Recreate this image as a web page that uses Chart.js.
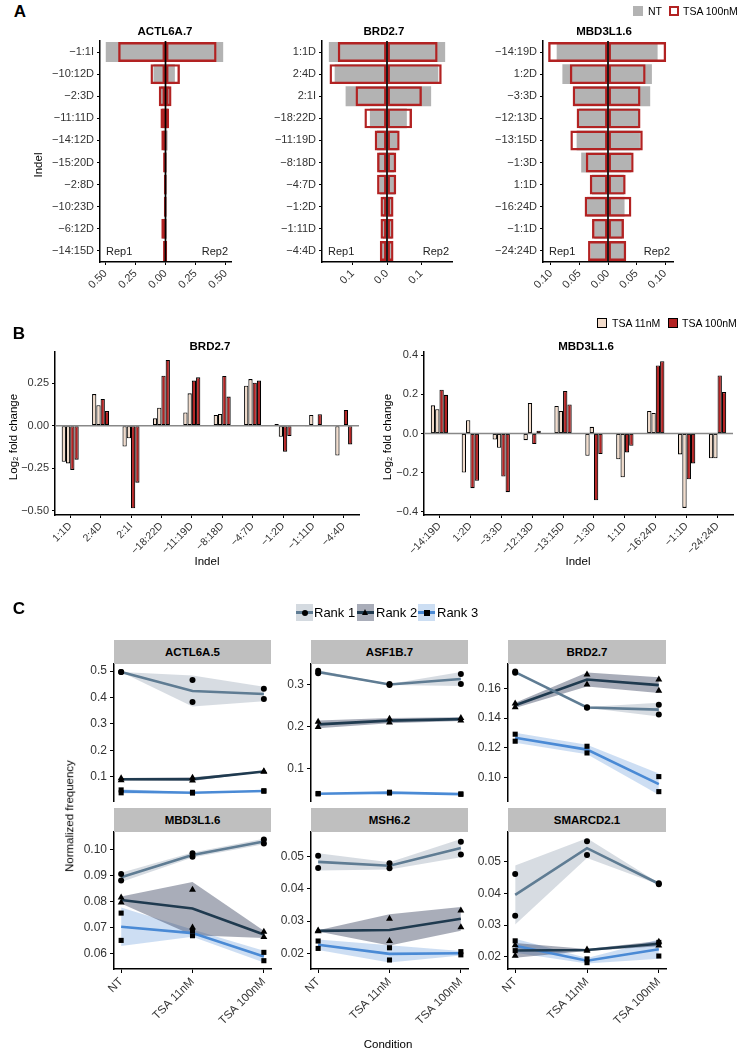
<!DOCTYPE html>
<html>
<head>
<meta charset="utf-8">
<script src="https://cdn.jsdelivr.net/npm/chart.js@4.4.1/dist/chart.umd.min.js"></script>
<style>
  html, body { margin: 0; padding: 0; background: #fff; }
  #fig { position: relative; width: 739px; height: 1051px; overflow: hidden;
         font-family: 'Liberation Sans', Arial, Helvetica, sans-serif; color: #000; }
  canvas { position: absolute; z-index: 1; }
  .t { position: absolute; white-space: nowrap; line-height: 1; z-index: 2; }
  .c { transform: translate(-50%, -50%); }
  .l { transform: translate(0, -50%); }
  .rot { transform: translate(-50%, -50%) rotate(-90deg); }
  .b { font-weight: bold; }
  .strip { position: absolute; z-index: 2; background: #BFBFBF; font-weight: bold; font-size: 11.5px;
           text-align: center; line-height: 24px; height: 24px; }
  .sq { position: absolute; z-index: 2; box-sizing: border-box; }
  .key { position: absolute; z-index: 2; width: 17px; height: 17px; }
  .key i { position: absolute; left: 0; right: 0; top: 7px; height: 2.6px; }
  .key b { position: absolute; background: #000; }
</style>
</head>
<body>
<div id="fig">
  <!-- panel A text -->
  <div class="t c b" style="left:20px;top:11px;font-size:17px">A</div>
  <div class="t c b" style="left:165px;top:32px;font-size:11.5px">ACTL6A.7</div>
  <div class="t c b" style="left:384px;top:32px;font-size:11.5px">BRD2.7</div>
  <div class="t c b" style="left:604px;top:32px;font-size:11.5px">MBD3L1.6</div>
  <div class="t rot" style="left:39px;top:165px;font-size:11.5px">Indel</div>
  <div class="sq" style="left:633px;top:6px;width:10px;height:10px;background:#B3B3B3"></div>
  <div class="t l" style="left:648px;top:11px;font-size:10.5px">NT</div>
  <div class="sq" style="left:669px;top:6px;width:10px;height:10px;border:2px solid #B22222"></div>
  <div class="t l" style="left:683px;top:11px;font-size:10.5px">TSA 100nM</div>

  <!-- panel B text -->
  <div class="t c b" style="left:19px;top:333px;font-size:17px">B</div>
  <div class="t c b" style="left:210px;top:347px;font-size:11.5px">BRD2.7</div>
  <div class="t c b" style="left:586px;top:347px;font-size:11.5px">MBD3L1.6</div>
  <div class="t rot" style="left:14px;top:437px;font-size:11.5px">Log₂ fold change</div>
  <div class="t rot" style="left:388px;top:437px;font-size:11.5px">Log₂ fold change</div>
  <div class="t c" style="left:207px;top:562px;font-size:11.5px">Indel</div>
  <div class="t c" style="left:578px;top:562px;font-size:11.5px">Indel</div>
  <div class="sq" style="left:597px;top:318px;width:10px;height:10px;background:#F2DCCB;border:1.2px solid #000"></div>
  <div class="t l" style="left:612px;top:323px;font-size:10.5px">TSA 11nM</div>
  <div class="sq" style="left:668px;top:318px;width:10px;height:10px;background:#B22222;border:1.2px solid #000"></div>
  <div class="t l" style="left:682px;top:323px;font-size:10.5px">TSA 100nM</div>

  <!-- panel C text -->
  <div class="t c b" style="left:19px;top:608px;font-size:17px">C</div>
  <div class="key" style="left:296px;top:604px;background:#D4DAE0"><i style="background:#5F7C93"></i><b style="left:6px;top:5.5px;width:6px;height:6px;border-radius:50%"></b></div>
  <div class="t l" style="left:314px;top:612px;font-size:13px">Rank 1</div>
  <div class="key" style="left:357px;top:604px;background:#A9ADB9"><i style="background:#1F3A4F"></i><b style="left:5px;top:4.5px;width:0;height:0;background:none;border-left:3.5px solid transparent;border-right:3.5px solid transparent;border-bottom:6px solid #000"></b></div>
  <div class="t l" style="left:376px;top:612px;font-size:13px">Rank 2</div>
  <div class="key" style="left:418px;top:604px;background:#CCDEF3"><i style="background:#4A8AD5"></i><b style="left:6px;top:5.5px;width:6px;height:6px"></b></div>
  <div class="t l" style="left:437px;top:612px;font-size:13px">Rank 3</div>
  <div class="strip" style="left:114px;top:640px;width:157px">ACTL6A.5</div>
  <div class="strip" style="left:311px;top:640px;width:157px">ASF1B.7</div>
  <div class="strip" style="left:508px;top:640px;width:158px">BRD2.7</div>
  <div class="strip" style="left:114px;top:808px;width:157px">MBD3L1.6</div>
  <div class="strip" style="left:311px;top:808px;width:157px">MSH6.2</div>
  <div class="strip" style="left:508px;top:808px;width:158px">SMARCD2.1</div>
  <div class="t rot" style="left:70px;top:816px;font-size:11.5px">Normalized frequency</div>
  <div class="t c" style="left:388px;top:1045px;font-size:11.5px">Condition</div>
</div>

<script>
'use strict';

// ─── Panel A: indel frequencies, Rep1 to the left, Rep2 to the right ──────────
const actlIndels  = ['−1:1I', '−10:12D', '−2:3D', '−11:11D', '−14:12D', '−15:20D', '−2:8D', '−10:23D', '−6:12D', '−14:15D'];
const actlNtRep1  = [0.497, 0.100, 0.039, 0.028, 0.020, 0.012, 0.010, 0.010, 0.025, 0.010];
const actlNtRep2  = [0.480, 0.078, 0.030, 0.022, 0.018, 0.010, 0.010, 0.008, 0.010, 0.012];
const actlTsaRep1 = [0.394, 0.125, 0.056, 0.042, 0.035, 0.020, 0.014, 0.014, 0.035, 0.020];
const actlTsaRep2 = [0.425, 0.120, 0.050, 0.030, 0.009, 0.009, 0.009, 0.009, 0.008, 0.014];
const actlXTicks  = [-0.5, -0.25, 0, 0.25, 0.5];

const brdIndels   = ['1:1D', '2:4D', '2:1I', '−18:22D', '−11:19D', '−8:18D', '−4:7D', '−1:2D', '−1:11D', '−4:4D'];
const brdNtRep1   = [0.170, 0.153, 0.121, 0.050, 0.029, 0.024, 0.021, 0.012, 0.012, 0.015];
const brdNtRep2   = [0.170, 0.150, 0.129, 0.058, 0.031, 0.021, 0.024, 0.015, 0.015, 0.012];
const brdTsaRep1  = [0.144, 0.168, 0.092, 0.066, 0.036, 0.029, 0.029, 0.019, 0.019, 0.021];
const brdTsaRep2  = [0.148, 0.160, 0.102, 0.073, 0.037, 0.027, 0.027, 0.019, 0.019, 0.019];
const brdXTicks   = [-0.1, 0, 0.1];

const mbdIndels   = ['−14:19D', '1:2D', '−3:3D', '−12:13D', '−13:15D', '−1:3D', '1:1D', '−16:24D', '−1:1D', '−24:24D'];
const mbdNtRep1   = [0.090, 0.080, 0.061, 0.051, 0.055, 0.047, 0.028, 0.037, 0.024, 0.030];
const mbdNtRep2   = [0.087, 0.077, 0.074, 0.054, 0.056, 0.041, 0.028, 0.029, 0.025, 0.029];
const mbdTsaRep1  = [0.105, 0.067, 0.062, 0.055, 0.066, 0.039, 0.032, 0.041, 0.028, 0.035];
const mbdTsaRep2  = [0.102, 0.066, 0.057, 0.057, 0.061, 0.045, 0.031, 0.041, 0.028, 0.032];
const mbdXTicks   = [-0.1, -0.05, 0, 0.05, 0.1];

// ─── Panel B: log2 fold change vs NT, two replicates per dose ─────────────────
const brdLfc11Rep1  = [-0.212, 0.186, -0.123, 0.043, 0.078, 0.063, 0.235, 0.010, -0.005, -0.176];
const brdLfc11Rep2  = [-0.222, 0.120, -0.074, 0.106, 0.190, 0.069, 0.274, -0.065, 0.063, -0.005];
const brdLfc100Rep1 = [-0.260, 0.157, -0.486, 0.294, 0.265, 0.292, 0.253, -0.153, -0.005, 0.092];
const brdLfc100Rep2 = [-0.200, 0.086, -0.335, 0.386, 0.284, 0.171, 0.265, -0.061, 0.067, -0.110];
const brdYTicks     = [-0.5, -0.25, 0, 0.25];

const mbdLfc11Rep1  = [0.144, -0.200, -0.031, -0.034, 0.141, -0.114, -0.132, 0.115, -0.107, -0.127];
const mbdLfc11Rep2  = [0.124, 0.068, -0.073, 0.156, 0.115, 0.034, -0.224, 0.105, -0.381, -0.127];
const mbdLfc100Rep1 = [0.224, -0.280, -0.220, -0.054, 0.217, -0.342, -0.097, 0.348, -0.234, 0.297];
const mbdLfc100Rep2 = [0.198, -0.242, -0.300, 0.014, 0.149, -0.105, -0.063, 0.370, -0.153, 0.212];
const mbdYTicks     = [-0.4, -0.2, 0, 0.2, 0.4];

// ─── Panel C: normalized frequency per rank, [rank][condition] ────────────────
const conditions = ['NT', 'TSA 11nM', 'TSA 100nM'];
const ranks = ['Rank 1', 'Rank 2', 'Rank 3'];

const actl6a5Rep1  = [[0.497, 0.466, 0.433], [0.094, 0.096, 0.121], [0.050, 0.041, 0.047]];
const actl6a5Rep2  = [[0.497, 0.383, 0.394], [0.087, 0.086, 0.119], [0.039, 0.038, 0.045]];
const actl6a5Ticks = [0.1, 0.2, 0.3, 0.4, 0.5];

const asf1b7Rep1   = [[0.334, 0.302, 0.326], [0.212, 0.219, 0.221], [0.040, 0.043, 0.039]];
const asf1b7Rep2   = [[0.328, 0.300, 0.302], [0.199, 0.210, 0.215], [0.039, 0.041, 0.038]];
const asf1b7Ticks  = [0.1, 0.2, 0.3];

const brd27Rep1    = [[0.1713, 0.1474, 0.1490], [0.1499, 0.1693, 0.1660], [0.1292, 0.1211, 0.1007]];
const brd27Rep2    = [[0.1705, 0.1470, 0.1424], [0.1474, 0.1627, 0.1584], [0.1245, 0.1166, 0.0906]];
const brd27Ticks   = [0.10, 0.12, 0.14, 0.16];

const mbd3l16Rep1  = [[0.0905, 0.0985, 0.1038], [0.0815, 0.0845, 0.0683], [0.0755, 0.0688, 0.0604]];
const mbd3l16Rep2  = [[0.0880, 0.0972, 0.1023], [0.0796, 0.0700, 0.0663], [0.0650, 0.0668, 0.0572]];
const mbd3l16Ticks = [0.06, 0.07, 0.08, 0.09, 0.10];

const msh62Rep1    = [[0.0503, 0.0480, 0.0547], [0.0271, 0.0307, 0.0333], [0.0238, 0.0217, 0.0205]];
const msh62Rep2    = [[0.0465, 0.0464, 0.0507], [0.0268, 0.0238, 0.0281], [0.0215, 0.0179, 0.0195]];
const msh62Ticks   = [0.02, 0.03, 0.04, 0.05];

const smarcd21Rep1  = [[0.0461, 0.0565, 0.0432], [0.0236, 0.0223, 0.0247], [0.0250, 0.0193, 0.0245]];
const smarcd21Rep2  = [[0.0329, 0.0521, 0.0429], [0.0203, 0.0219, 0.0235], [0.0219, 0.0181, 0.0202]];
const smarcd21Ticks = [0.02, 0.03, 0.04, 0.05];

// ─── Styling ──────────────────────────────────────────────────────────────────
const FONT = "'Liberation Sans', Arial, Helvetica, sans-serif";
Chart.defaults.font.family = FONT;
Chart.defaults.color = '#333';
Chart.defaults.animation = false;

const NT_GREY = '#B3B3B3';
const TSA_RED = '#B22222';
const TSA11_BEIGE = '#F2DCCB';
const rankLine = ['#5F7C93', '#1F3A4F', '#4A8AD5'];
const rankFill = ['rgba(110,130,150,0.28)', 'rgba(40,50,80,0.40)', 'rgba(74,138,213,0.28)'];
const rankPoint = ['circle', 'triangle', 'rect'];
const rankRadius = [3, 4, 3.6];

const axisBorder = { display: true, color: '#000', width: 1.5 };
const fixW = w => s => { s.width = w; };
const fixH = h => s => { if (s.options.display) s.height = h; };
const tickGrid = (len = 3) => ({
  display: true, drawOnChartArea: false, drawTicks: true,
  tickLength: len, tickWidth: 1, tickColor: '#000', offset: false,
});
const signed = (v, d) => (v < 0 ? '−' + Math.abs(v).toFixed(d) : v.toFixed(d));

const fig = document.getElementById('fig');
function makeCanvas(left, top, w, h) {
  const c = document.createElement('canvas');
  c.width = w; c.height = h;
  c.style.left = left + 'px'; c.style.top = top + 'px';
  c.style.width = w + 'px'; c.style.height = h + 'px';
  fig.appendChild(c);
  return c;
}

// black centre line + Rep1/Rep2 captions
const mirrorLine = {
  id: 'mirrorLine',
  afterDatasetsDraw(chart) {
    const { ctx, chartArea: a, scales: { x } } = chart;
    const x0 = x.getPixelForValue(0);
    ctx.save();
    ctx.strokeStyle = '#000';
    ctx.lineWidth = 1.7;
    ctx.beginPath(); ctx.moveTo(x0, a.top); ctx.lineTo(x0, a.bottom); ctx.stroke();
    ctx.font = '11px ' + FONT;
    ctx.fillStyle = '#222';
    ctx.textBaseline = 'middle';
    ctx.textAlign = 'left';
    ctx.fillText('Rep1', a.left + 6, a.bottom - 10);
    ctx.textAlign = 'right';
    ctx.fillText('Rep2', a.right - 3, a.bottom - 10);
    ctx.restore();
  }
};

// grey horizontal line at y = 0
const zeroLine = {
  id: 'zeroLine',
  afterDatasetsDraw(chart) {
    const { ctx, chartArea: a, scales: { y } } = chart;
    const y0 = y.getPixelForValue(0);
    ctx.save();
    ctx.strokeStyle = '#888';
    ctx.lineWidth = 1.5;
    ctx.beginPath(); ctx.moveTo(a.left, y0); ctx.lineTo(a.right, y0); ctx.stroke();
    ctx.restore();
  }
};

// ─── Panel A builder ──────────────────────────────────────────────────────────
function pyramid(el, labels, ntR1, ntR2, tsaR1, tsaR2, lim, xTicks, dec) {
  const tsa = { backgroundColor: 'rgba(0,0,0,0)', borderColor: TSA_RED, borderWidth: 2.4, borderSkipped: false, order: 1 };
  return new Chart(el, {
    type: 'bar',
    data: {
      labels,
      datasets: [
        { label: 'NT', data: ntR1.map(v => -v), backgroundColor: NT_GREY, order: 2 },
        { label: 'NT', data: ntR2, backgroundColor: NT_GREY, order: 2 },
        { label: 'TSA 100nM', data: tsaR1.map(v => -v), ...tsa },
        { label: 'TSA 100nM', data: tsaR2, ...tsa },
      ]
    },
    options: {
      indexAxis: 'y',
      responsive: false,
      layout: { padding: { top: 10, right: 8, left: 0, bottom: 0 } },
      datasets: { bar: { grouped: false, categoryPercentage: 1, barPercentage: 0.9 } },
      plugins: { legend: { display: false }, tooltip: { enabled: false } },
      scales: {
        x: {
          type: 'linear', min: -lim, max: lim,
          afterBuildTicks: s => { s.ticks = xTicks.map(v => ({ value: v })); },
          afterFit: fixH(30),
          ticks: { minRotation: 45, maxRotation: 45, padding: 2, font: { size: 11 },
                   callback: v => Math.abs(v).toFixed(dec) },
          grid: tickGrid(3), border: axisBorder,
        },
        y: {
          afterFit: fixW(60),
          ticks: { padding: 3, autoSkip: false, font: { size: 11 } },
          grid: tickGrid(3), border: axisBorder,
        }
      }
    },
    plugins: [mirrorLine]
  });
}

pyramid(makeCanvas(40, 31, 199, 261), actlIndels, actlNtRep1, actlNtRep2, actlTsaRep1, actlTsaRep2, 0.545, actlXTicks, 2);
pyramid(makeCanvas(262, 31, 198, 261), brdIndels, brdNtRep1, brdNtRep2, brdTsaRep1, brdTsaRep2, 0.19, brdXTicks, 1);
pyramid(makeCanvas(483, 31, 198, 261), mbdIndels, mbdNtRep1, mbdNtRep2, mbdTsaRep1, mbdTsaRep2, 0.114, mbdXTicks, 2);

// ─── Panel B builder ──────────────────────────────────────────────────────────
function foldBars(el, labels, r11a, r11b, r100a, r100b, yMin, yMax, yTicks, dec, padRight) {
  const bar = { borderColor: '#000', borderWidth: 1.1, borderSkipped: false };
  return new Chart(el, {
    type: 'bar',
    data: {
      labels,
      datasets: [
        { label: 'TSA 11nM', data: r11a, backgroundColor: TSA11_BEIGE, ...bar },
        { label: 'TSA 11nM', data: r11b, backgroundColor: TSA11_BEIGE, ...bar },
        { label: 'TSA 100nM', data: r100a, backgroundColor: TSA_RED, ...bar },
        { label: 'TSA 100nM', data: r100b, backgroundColor: TSA_RED, ...bar },
      ]
    },
    options: {
      responsive: false,
      layout: { padding: { top: 10, right: padRight, left: 0, bottom: 0 } },
      datasets: { bar: { categoryPercentage: 0.56, barPercentage: 1 } },
      plugins: { legend: { display: false }, tooltip: { enabled: false } },
      scales: {
        x: {
          afterFit: fixH(45),
          ticks: { minRotation: 45, maxRotation: 45, padding: 2, autoSkip: false, font: { size: 10.5 } },
          grid: tickGrid(3), border: axisBorder,
        },
        y: {
          min: yMin, max: yMax,
          afterBuildTicks: s => { s.ticks = yTicks.map(v => ({ value: v })); },
          afterFit: fixW(45),
          ticks: { padding: 3, font: { size: 11 }, callback: v => signed(v, dec) },
          grid: tickGrid(3), border: axisBorder,
        }
      }
    },
    plugins: [zeroLine]
  });
}

foldBars(makeCanvas(10, 342, 355, 218), brdIndels, brdLfc11Rep1, brdLfc11Rep2, brdLfc100Rep1, brdLfc100Rep2,
         -0.525, 0.433, brdYTicks, 2, 6);
foldBars(makeCanvas(379, 342, 359, 218), mbdIndels, mbdLfc11Rep1, mbdLfc11Rep2, mbdLfc100Rep1, mbdLfc100Rep2,
         -0.417, 0.417, mbdYTicks, 1, 5);

// ─── Panel C builder: mean line, mean ± sd ribbon, replicate points ───────────
function rankChart(el, rep1, rep2, yMin, yMax, yTicks, dec, showX) {
  const ribbons = [], lines = [], points = [];
  ranks.forEach((name, r) => {
    const mean = conditions.map((_, i) => (rep1[r][i] + rep2[r][i]) / 2);
    const sd = conditions.map((_, i) => Math.abs(rep1[r][i] - rep2[r][i]) / Math.SQRT2);
    const blank = { borderWidth: 0, pointRadius: 0, order: 3 };
    ribbons.push({ label: name, data: mean.map((m, i) => ({ x: i, y: m + sd[i] })), fill: '+1', backgroundColor: rankFill[r], ...blank });
    ribbons.push({ label: name, data: mean.map((m, i) => ({ x: i, y: m - sd[i] })), fill: false, ...blank });
    lines.push({ label: name, data: mean.map((m, i) => ({ x: i, y: m })), borderColor: rankLine[r],
                 borderWidth: 2.6, pointRadius: 0, tension: 0, fill: false, order: 2 });
    points.push({ label: name, showLine: false, fill: false, order: 1,
                  data: [...rep1[r].map((v, i) => ({ x: i, y: v })), ...rep2[r].map((v, i) => ({ x: i, y: v }))],
                  pointStyle: rankPoint[r], pointRadius: rankRadius[r],
                  pointBackgroundColor: '#000', pointBorderColor: '#000', pointBorderWidth: 0 });
  });
  return new Chart(el, {
    type: 'line',
    data: { datasets: [...ribbons, ...lines, ...points] },
    options: {
      responsive: false,
      layout: { padding: { top: 12, right: 6, left: 0, bottom: showX ? 0 : 12 } },
      plugins: { legend: { display: false }, tooltip: { enabled: false } },
      scales: {
        x: {
          type: 'linear', min: -0.1, max: 2.1, display: showX,
          afterBuildTicks: s => { s.ticks = conditions.map((_, i) => ({ value: i })); },
          afterFit: fixH(62),
          ticks: { minRotation: 45, maxRotation: 45, padding: 2, font: { size: 11.5 }, callback: v => conditions[v] },
          grid: tickGrid(4), border: axisBorder,
        },
        y: {
          min: yMin, max: yMax,
          afterBuildTicks: s => { s.ticks = yTicks.map(v => ({ value: v })); },
          afterFit: fixW(45),
          ticks: { padding: 3, font: { size: 12 }, callback: v => v.toFixed(dec) },
          grid: tickGrid(4), border: axisBorder,
        }
      }
    }
  });
}

const colLeft = [114, 311, 508];
const colWidth = [157, 157, 158];
const rowTop = [664, 832];
const PANEL_H = 137;
function facetCanvas(col, row) {
  const bottom = row === 1 ? 62 : 12;
  return makeCanvas(colLeft[col] - 45, rowTop[row] - 12, 45 + colWidth[col] + 6, 12 + PANEL_H + bottom);
}

rankChart(facetCanvas(0, 0), actl6a5Rep1, actl6a5Rep2, 0.008, 0.527, actl6a5Ticks, 1, false);
rankChart(facetCanvas(1, 0), asf1b7Rep1, asf1b7Rep2, 0.022, 0.350, asf1b7Ticks, 1, false);
rankChart(facetCanvas(2, 0), brd27Rep1, brd27Rep2, 0.0843, 0.1764, brd27Ticks, 2, false);
rankChart(facetCanvas(0, 1), mbd3l16Rep1, mbd3l16Rep2, 0.054, 0.1067, mbd3l16Ticks, 2, true);
rankChart(facetCanvas(1, 1), msh62Rep1, msh62Rep2, 0.0151, 0.0577, msh62Ticks, 2, true);
rankChart(facetCanvas(2, 1), smarcd21Rep1, smarcd21Rep2, 0.0161, 0.0594, smarcd21Ticks, 2, true);
</script>
</body>
</html>
